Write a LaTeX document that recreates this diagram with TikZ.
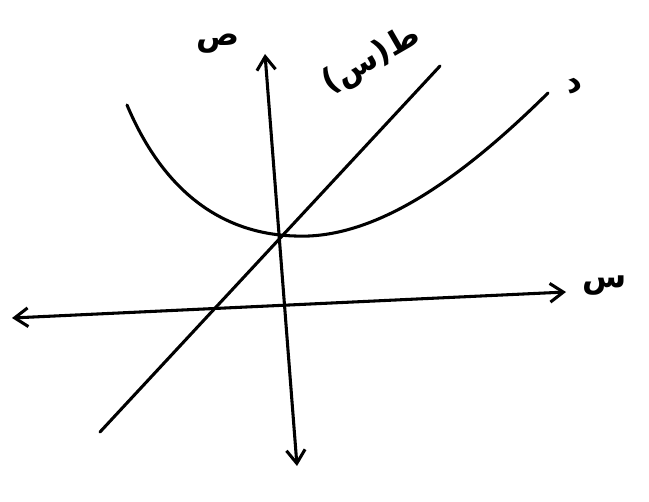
\documentclass[tikz,border=0pt]{standalone}
\usepackage{fontspec}
\newfontfamily\arabicfont[Script=Arabic]{DejaVu Sans}
\TeXXeTstate=1
\usetikzlibrary{arrows.meta}
\begin{document}
\begin{tikzpicture}[x=0.75pt,y=-0.75pt,
  ink/.style={line width=2.3pt,line cap=round,line join=round},
  axisarrow/.style={ink,{Straight Barb[length=10pt,width=14pt,line width=2.3pt]}-{Straight Barb[length=10pt,width=14pt,line width=2.3pt]}},
  lbl/.style={font=\arabicfont\bfseries\fontsize{24}{28}\selectfont,inner sep=0pt}]
\useasboundingbox (0,0) rectangle (649,502);
% axes
\coordinate (yb) at (297,466);
\coordinate (yt) at (265,54);
\coordinate (xl) at (12,318);
\coordinate (xr) at (566,292);
\draw[axisarrow] (yb) -- (yt);
\draw[axisarrow] (xl) -- (xr);
% line
\coordinate (la) at (100,432);
\coordinate (lb) at (440,66);
\draw[ink] (la) -- (lb);
% parabola
\coordinate (pa) at (127,105);
\coordinate (pv) at (295,236);
\coordinate (pb) at (548,93);
\draw[ink] (pa) .. controls (165,195) and (225,234) .. (pv)
  .. controls (380,240) and (470,170) .. (pb);
% labels
\node[lbl] (ly) at (218,44) {\beginR ص\endR};
\node[lbl] (lx) at (605,286) {\beginR س\endR};
\node[lbl,rotate=30] (lf) at (372,60) {\beginR ط(س)\endR};
\node[lbl,rotate=20] (lg) at (574,86) {\beginR د\endR};
\end{tikzpicture}
\end{document}
